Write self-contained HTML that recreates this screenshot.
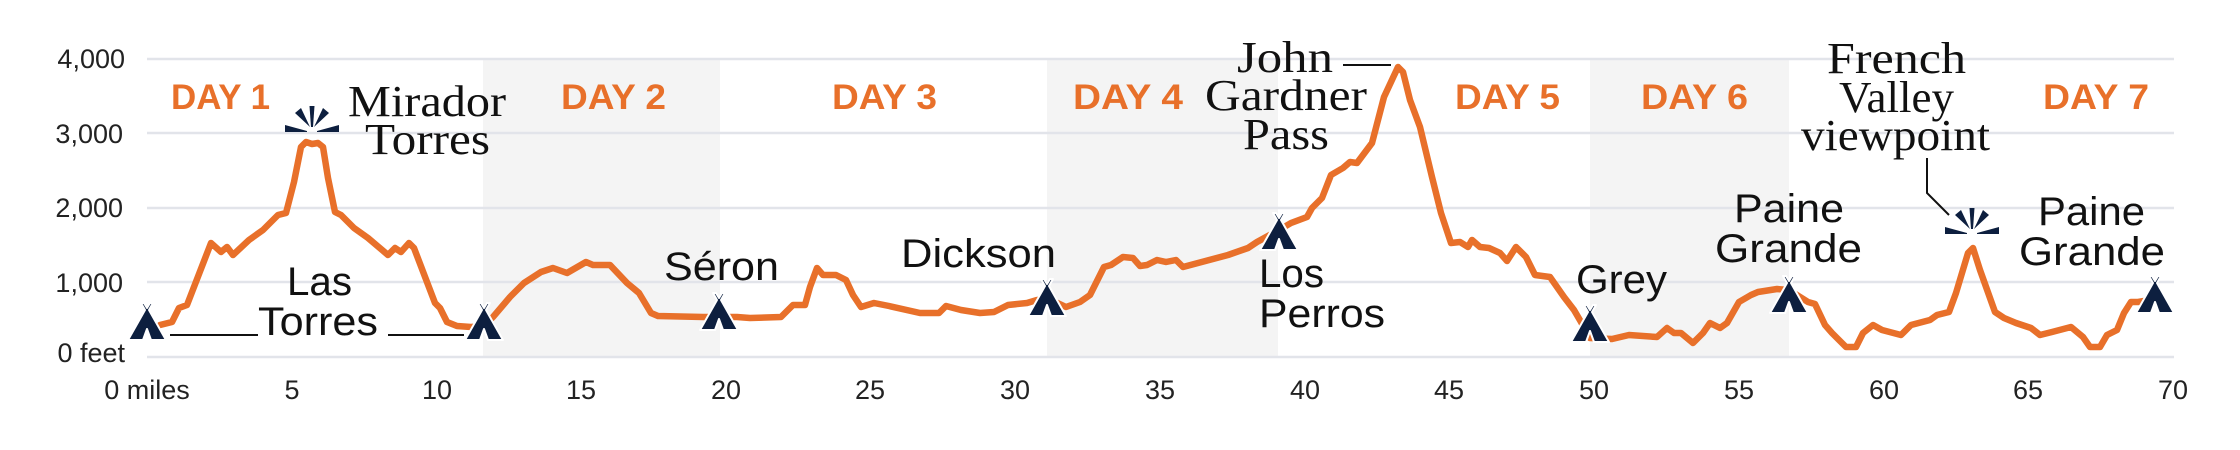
<!DOCTYPE html>
<html><head><meta charset="utf-8"><style>
html,body{margin:0;padding:0;background:#fff;}
svg{display:block;}
.ax{font-family:"Liberation Sans",sans-serif;font-size:27px;fill:#222;}
.day{font-family:"Liberation Sans",sans-serif;font-size:35px;font-weight:bold;fill:#e8702a;}
.sf{font-family:"Liberation Serif",serif;font-size:44px;fill:#111;}
.sn{font-family:"Liberation Sans",sans-serif;font-size:40px;fill:#111;}
</style></head><body>
<svg width="2240" height="450" viewBox="0 0 2240 450" xmlns="http://www.w3.org/2000/svg">
<defs>
<g id="tent"><path d="M-19,0 L-2,-30 L-6,-37 L-3,-37 L0,-32 L3,-37 L6,-37 L2,-30 L19,0 L4,0 L0,-11 L-4,0 Z" fill="#0d1f3f" stroke="#fff" stroke-width="2" stroke-linejoin="round"/></g>
<g id="burst" fill="#0d1f3f"><path d="M-2.5,-26 L2.5,-26 L1,-5 L-1,-5 Z"/><path d="M-17,-19 L-11,-24 L-2,-5 Z"/><path d="M17,-19 L11,-24 L2,-5 Z"/><path d="M-27,0 L-27,-7 L-5,-1 L-5,0 Z"/><path d="M27,0 L27,-7 L5,-1 L5,0 Z"/></g>
</defs>
<rect x="483" y="59" width="237" height="298" fill="#f4f4f4"/>
<rect x="1047" y="59" width="231" height="298" fill="#f4f4f4"/>
<rect x="1590" y="59" width="199" height="298" fill="#f4f4f4"/>
<g stroke="#e2e4ea" stroke-width="2.5">
<line x1="147" x2="2174" y1="59" y2="59"/><line x1="147" x2="2174" y1="133" y2="133"/>
<line x1="147" x2="2174" y1="208" y2="208"/><line x1="147" x2="2174" y1="282" y2="282"/>
<line x1="147" x2="2174" y1="357" y2="357"/>
</g>
<g stroke="#e2e4ea" stroke-width="2" id="ticks"></g>
<script>
var g=document.getElementById('ticks'),s='';
for(var m=0;m<=70;m++){var x=147+28.94*m;s+='<line x1="'+x+'" x2="'+x+'" y1="357" y2="369"/>';}
g.innerHTML=s;
</script>
<g class="ax" text-anchor="end">
<text x="125" y="68">4,000</text><text x="123" y="143">3,000</text>
<text x="123" y="217">2,000</text><text x="123" y="292">1,000</text>
<text x="125" y="362">0 feet</text>
</g>
<g class="ax" text-anchor="middle">
<text x="147" y="399">0 miles</text><text x="292" y="399">5</text><text x="437" y="399">10</text>
<text x="581" y="399">15</text><text x="726" y="399">20</text><text x="870" y="399">25</text>
<text x="1015" y="399">30</text><text x="1160" y="399">35</text><text x="1305" y="399">40</text>
<text x="1449" y="399">45</text><text x="1594" y="399">50</text><text x="1739" y="399">55</text>
<text x="1884" y="399">60</text><text x="2028" y="399">65</text><text x="2173" y="399">70</text>
</g>
<g class="day" lengthAdjust="spacingAndGlyphs">
<text x="171" y="109" textLength="99" lengthAdjust="spacingAndGlyphs">DAY 1</text><text x="561" y="109" textLength="105" lengthAdjust="spacingAndGlyphs">DAY 2</text>
<text x="832" y="109" textLength="105" lengthAdjust="spacingAndGlyphs">DAY 3</text><text x="1073" y="109" textLength="110" lengthAdjust="spacingAndGlyphs">DAY 4</text>
<text x="1455" y="109" textLength="105" lengthAdjust="spacingAndGlyphs">DAY 5</text><text x="1641" y="109" textLength="107" lengthAdjust="spacingAndGlyphs">DAY 6</text>
<text x="2043" y="109" textLength="106" lengthAdjust="spacingAndGlyphs">DAY 7</text>
</g>
<polyline fill="none" stroke="#e8702a" stroke-width="6.5" stroke-linejoin="round" stroke-linecap="round" points="
160,325 172,322 179,308 187,305 211,243 221,252 227,247 233,255 249,240 263,230 278,215 286,213 294,182 301,147 306,142 312,144 318,143 323,147 328,178 335,212 341,215 354,228 368,238 388,255 395,248 401,252 409,243 414,248 435,303 440,308 447,322 457,326 471,327 484,326
493,317 510,297 524,283 541,272 553,268 567,273 586,262 593,265 610,265 627,283 639,293 651,313 658,316 703,317 737,317 750,318 781,317 793,305 805,305 810,287 817,268 823,275 836,275 846,280 853,295 861,307 874,303 889,306 920,313 939,313 946,306 961,310 980,313 994,312 1008,305 1027,303 1037,300 1047,298
1066,307 1080,302 1090,295 1104,267 1111,265 1123,257 1133,258 1140,266 1147,265 1157,260 1166,262 1176,260 1183,267 1228,255 1248,248 1257,242 1279,230 1291,223 1307,217 1312,208 1322,198 1331,175 1343,168 1350,162 1357,163 1372,143 1384,97 1391,82 1398,67 1403,72 1410,100 1420,127 1432,177 1441,213 1451,243 1460,242 1468,247 1472,240 1480,247 1489,248 1500,253 1507,261 1516,247 1526,257 1535,275 1550,277 1564,297 1574,310 1581,322 1590,338
1612,339 1629,335 1657,337 1667,328 1674,333 1681,333 1693,343 1703,333 1710,323 1720,328 1727,323 1739,302 1751,295 1758,292 1777,289 1789,290
1808,302 1815,304 1825,325 1832,333 1846,347 1856,347 1863,333 1873,325 1882,330 1901,335 1911,325 1930,320 1937,315 1949,312 1956,293 1968,253 1973,248 1980,270 1995,312 2004,318 2016,323 2031,328 2040,335 2052,332 2071,327 2083,337 2090,347 2100,347 2107,335 2117,330 2124,313 2131,302 2138,302 2150,300"/>
<use href="#tent" x="147" y="340"/><use href="#tent" x="484" y="340"/>
<use href="#tent" x="719" y="330"/><use href="#tent" x="1047" y="316"/>
<use href="#tent" x="1279" y="250"/><use href="#tent" x="1590" y="342"/>
<use href="#tent" x="1789" y="313"/><use href="#tent" x="2155" y="313"/>
<use href="#burst" x="312" y="132"/><use href="#burst" x="1972" y="234"/>
<g stroke="#111" stroke-width="2" fill="none">
<line x1="170" x2="258" y1="335" y2="335"/><line x1="388" x2="464" y1="335" y2="335"/>
<line x1="1343" x2="1391" y1="65" y2="65"/>
<polyline points="1927,158 1927,193 1949,215"/>
</g>
<g class="sf">
<text x="348" y="116" textLength="158" lengthAdjust="spacingAndGlyphs">Mirador</text><text x="365" y="154" textLength="125" lengthAdjust="spacingAndGlyphs">Torres</text>
<text x="1237" y="72" textLength="96" lengthAdjust="spacingAndGlyphs">John</text><text x="1205" y="110" textLength="162" lengthAdjust="spacingAndGlyphs">Gardner</text><text x="1243" y="149" textLength="86" lengthAdjust="spacingAndGlyphs">Pass</text>
<text x="1827" y="73" textLength="139" lengthAdjust="spacingAndGlyphs">French</text><text x="1839" y="112" textLength="115" lengthAdjust="spacingAndGlyphs">Valley</text><text x="1801" y="150" textLength="189" lengthAdjust="spacingAndGlyphs">viewpoint</text>
</g>
<g class="sn">
<text x="287" y="295" textLength="65" lengthAdjust="spacingAndGlyphs">Las</text><text x="258" y="335" textLength="120" lengthAdjust="spacingAndGlyphs">Torres</text>
<text x="664" y="280" textLength="115" lengthAdjust="spacingAndGlyphs">Séron</text>
<text x="901" y="267" textLength="155" lengthAdjust="spacingAndGlyphs">Dickson</text>
<text x="1259" y="287" textLength="65" lengthAdjust="spacingAndGlyphs">Los</text><text x="1259" y="327" textLength="126" lengthAdjust="spacingAndGlyphs">Perros</text>
<text x="1576" y="293" textLength="91" lengthAdjust="spacingAndGlyphs">Grey</text>
<text x="1734" y="222" textLength="110" lengthAdjust="spacingAndGlyphs">Paine</text><text x="1715" y="262" textLength="147" lengthAdjust="spacingAndGlyphs">Grande</text>
<text x="2038" y="225" textLength="107" lengthAdjust="spacingAndGlyphs">Paine</text><text x="2019" y="265" textLength="146" lengthAdjust="spacingAndGlyphs">Grande</text>
</g>
</svg>
</body></html>
